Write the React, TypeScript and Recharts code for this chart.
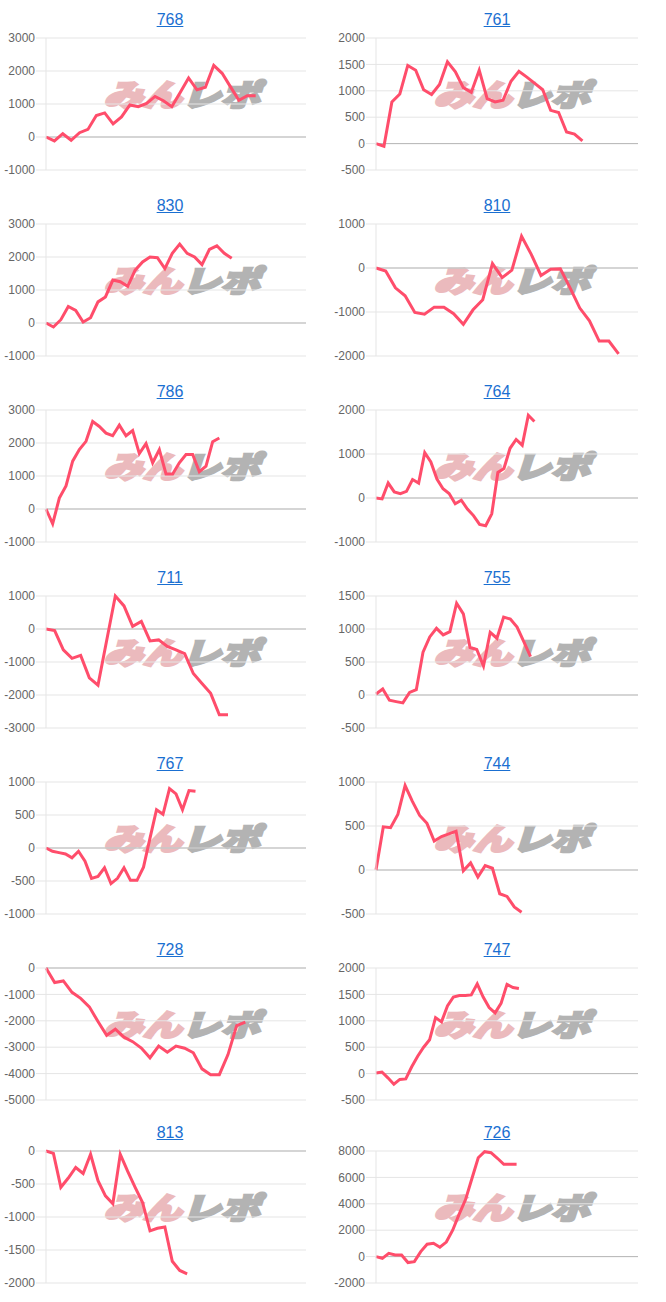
import React from "react";
import { CartesianGrid, Line, LineChart, ReferenceLine, XAxis, YAxis } from "recharts";

// cumulative values per machine
const p768 = [0, -120, 100, -100, 130, 230, 650, 730, 400, 610, 970, 920, 1020, 1230, 1100, 920, 1350, 1790, 1430, 1510, 2170, 1930, 1520, 1110, 1250, 1250];
const p761 = [0, -50, 790, 940, 1480, 1390, 1020, 930, 1120, 1550, 1360, 1060, 970, 1390, 850, 790, 820, 1180, 1370, 1260, 1140, 1020, 630, 590, 220, 180, 50];
const p830 = [0, -120, 100, 500, 380, 30, 160, 640, 790, 1300, 1250, 1110, 1600, 1850, 2000, 1980, 1650, 2110, 2390, 2110, 2000, 1770, 2230, 2340, 2110, 1960];
const p810 = [0, -70, -450, -630, -1010, -1050, -890, -890, -1040, -1280, -950, -720, 100, -220, -50, 720, 310, -170, -30, -20, -450, -910, -1200, -1660, -1660, -1950];
const p786 = [0, -450, 330, 700, 1450, 1800, 2050, 2650, 2500, 2300, 2220, 2540, 2220, 2380, 1680, 1980, 1400, 1800, 1060, 1060, 1400, 1650, 1650, 1130, 1300, 2040, 2150];
const p764 = [0, -20, 340, 140, 100, 150, 420, 340, 1030, 820, 430, 210, 100, -130, -50, -250, -400, -600, -630, -360, 580, 670, 1130, 1330, 1200, 1880, 1740];
const p711 = [0, -50, -630, -890, -800, -1480, -1700, -350, 1000, 700, 80, 230, -360, -330, -530, -630, -750, -1350, -1650, -1950, -2600, -2600];
const p755 = [15, 90, -80, -100, -120, 40, 80, 650, 880, 1010, 910, 960, 1390, 1230, 720, 690, 440, 950, 860, 1180, 1150, 1030, 810, 580];
const p767 = [0, -50, -70, -90, -150, -50, -200, -460, -430, -300, -540, -460, -300, -490, -490, -290, 150, 580, 510, 900, 820, 580, 870, 860];
const p744 = [0, 490, 480, 630, 960, 780, 620, 530, 330, 380, 410, 440, -10, 80, -80, 50, 20, -270, -300, -420, -480];
const p728 = [0, -550, -490, -920, -1150, -1470, -2030, -2550, -2320, -2620, -2790, -3030, -3400, -2960, -3190, -2960, -3040, -3210, -3820, -4040, -4040, -3280, -2180, -2050];
const p747 = [10, 30, -80, -200, -110, -100, 130, 330, 500, 640, 1060, 980, 1280, 1450, 1480, 1480, 1490, 1700, 1450, 1250, 1150, 1330, 1690, 1630, 1610];
const p813 = [0, -35, -550, -410, -250, -340, -50, -450, -680, -800, -50, -310, -550, -780, -1210, -1170, -1150, -1670, -1810, -1860];
const p726 = [0, -130, 250, 130, 120, -450, -380, 380, 940, 1010, 710, 1100, 2000, 3200, 4300, 5900, 7490, 7950, 7870, 7450, 6990, 6990, 6990];

// y tick labels
const t768 = [-1000, 0, 1000, 2000, 3000];
const t761 = [-500, 0, 500, 1000, 1500, 2000];
const t830 = [-1000, 0, 1000, 2000, 3000];
const t810 = [-2000, -1000, 0, 1000];
const t786 = [-1000, 0, 1000, 2000, 3000];
const t764 = [-1000, 0, 1000, 2000];
const t711 = [-3000, -2000, -1000, 0, 1000];
const t755 = [-500, 0, 500, 1000, 1500];
const t767 = [-1000, -500, 0, 500, 1000];
const t744 = [-500, 0, 500, 1000];
const t728 = [-5000, -4000, -3000, -2000, -1000, 0];
const t747 = [-500, 0, 500, 1000, 1500, 2000];
const t813 = [-2000, -1500, -1000, -500, 0];
const t726 = [-2000, 0, 2000, 4000, 6000, 8000];

// number of day slots on each x axis
const span = { "768": 31, "761": 33, "830": 35, "810": 27, "786": 39, "764": 43, "711": 30, "755": 39, "767": 40, "744": 36, "728": 30, "747": 44, "813": 35, "726": 41 };

const charts = [
  ["768", p768, t768], ["761", p761, t761],
  ["830", p830, t830], ["810", p810, t810],
  ["786", p786, t786], ["764", p764, t764],
  ["711", p711, t711], ["755", p755, t755],
  ["767", p767, t767], ["744", p744, t744],
  ["728", p728, t728], ["747", p747, t747],
  ["813", p813, t813], ["726", p726, t726],
] as [string, number[], number[]][];

const ROW_TOP = [0, 186, 372, 558, 744, 930, 1113];
const LINE = "#ff4d6b";
const GRID = "#e5e5e5";
const ZERO = "#b8b8b8";
const FONT = "'Liberation Sans', Arial, sans-serif";

function Panel({ title, values, ticks, col, top }: { title: string; values: number[]; ticks: number[]; col: number; top: number }) {
  const data = values.map((v, i) => ({ i, v }));
  const left = col === 0 ? 0 : 330;
  return (
    <>
      <div style={{ position: "absolute", left: col === 0 ? 8 : 333, top: top + 10, width: col === 0 ? 324 : 328, textAlign: "center", fontFamily: FONT, fontSize: 16, lineHeight: "20px" }}>
        <span style={{ color: "#1a6fd1", textDecoration: "underline" }}>{title}</span>
      </div>
      <div style={{ position: "absolute", left: col === 0 ? 108 : 438, top: top + 77, fontFamily: "'Noto Sans CJK JP', sans-serif", fontSize: 30, fontWeight: 900, lineHeight: "32px", whiteSpace: "nowrap", transform: "scaleX(1.3) skewX(-14deg)", transformOrigin: "left center" }}>
        <span style={{ color: "#ebbabd", WebkitTextStroke: "2.5px #ebbabd" }}>みん</span>
        <span style={{ color: "#b3b3b3", WebkitTextStroke: "2.5px #b3b3b3" }}>レポ</span>
      </div>
      <div style={{ position: "absolute", left, top }}>
        <LineChart width={320} height={186} data={data} margin={{ top: 38, right: col === 0 ? 14 : 12, bottom: 16, left: 0 }}>
          <CartesianGrid stroke={GRID} vertical={false} />
          <XAxis dataKey="i" type="number" domain={[0, span[title]]} hide />
          <YAxis
            width={46}
            domain={[ticks[0], ticks[ticks.length - 1]]}
            ticks={ticks}
            interval={0}
            axisLine={{ stroke: GRID }}
            tickLine={{ stroke: GRID }}
            tickSize={10}
            tickMargin={1}
            tick={{ fill: "#666", fontSize: 12, fontFamily: FONT }}
          />
          <ReferenceLine y={0} stroke={ZERO} />
          <Line type="linear" dataKey="v" stroke={LINE} strokeWidth={3} dot={false} isAnimationActive={false} />
        </LineChart>
      </div>
    </>
  );
}

export default function App() {
  return (
    <div style={{ position: "absolute", left: 0, top: 0, width: 666, height: 1302, background: "#fff" }}>
      {charts.map(([title, values, ticks], k) => (
        <Panel key={title} title={title} values={values} ticks={ticks} col={k % 2} top={ROW_TOP[Math.floor(k / 2)]} />
      ))}
    </div>
  );
}
